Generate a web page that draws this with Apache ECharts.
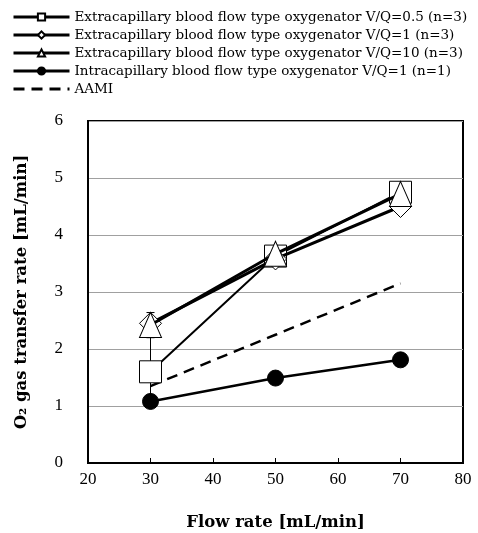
<!DOCTYPE html>
<html>
<head>
<meta charset="utf-8">
<script src="https://cdn.jsdelivr.net/npm/echarts@6/dist/echarts.min.js"></script>
<style>html,body{margin:0;padding:0;background:#fff}#c{width:478px;height:533px}</style>
</head>
<body>
<div id="c"></div>
<script>
const flow = [30, 50, 70];
const vq05 = [1.6, 3.63, 4.75];
const vq1 = [2.45, 3.58, 4.5];
const vq10 = [2.42, 3.67, 4.72];
const intra = [1.08, 1.49, 1.81];
const aami = [1.35, 2.25, 3.15];
const err05 = [0.6, 0.1, 0.1];
const err10 = [0.22, 0.05, 0.05];
const names = [
  'Extracapillary blood flow type oxygenator V/Q=0.5 (n=3)',
  'Extracapillary blood flow type oxygenator V/Q=1 (n=3)',
  'Extracapillary blood flow type oxygenator V/Q=10 (n=3)',
  'Intracapillary blood flow type oxygenator V/Q=1 (n=1)',
  'AAMI'
];
const xTicks = [20, 30, 40, 50, 60, 70, 80];
const yTicks = [0, 1, 2, 3, 4, 5, 6];

const pairs = arr => flow.map((f, i) => [f, arr[i]]);
const errData = (vals, errs) => flow.map((f, i) => [f, vals[i] - errs[i], vals[i] + errs[i]]);

const serif = '"Liberation Serif", "DejaVu Serif", serif';

function errSeries(vals, errs) {
  return {
    type: 'custom',
    data: errData(vals, errs),
    z: 1,
    silent: true,
    renderItem: function (params, api) {
      const x = api.value(0);
      const lo = api.coord([x, api.value(1)]);
      const hi = api.coord([x, api.value(2)]);
      const w = 4;
      const st = { stroke: '#000', lineWidth: 1 };
      return {
        type: 'group',
        children: [
          { type: 'line', shape: { x1: lo[0], y1: lo[1], x2: hi[0], y2: hi[1] }, style: st },
          { type: 'line', shape: { x1: hi[0] - w, y1: hi[1], x2: hi[0] + w, y2: hi[1] }, style: st },
          { type: 'line', shape: { x1: lo[0] - w, y1: lo[1], x2: lo[0] + w, y2: lo[1] }, style: st }
        ]
      };
    }
  };
}

const chart = echarts.init(document.getElementById('c'), null, { renderer: 'canvas' });
const lineBase = { type: 'line', itemStyle: { color: '#fff', borderColor: '#000', borderWidth: 1, opacity: 1 }, lineStyle: { color: '#000', width: 3 }, z: 2 };
chart.setOption({
  animation: false,
  backgroundColor: '#fff',
  legend: {
    orient: 'vertical',
    left: 7,
    top: 5,
    itemWidth: 56,
    itemHeight: 9,
    itemGap: 4,
    lineStyle: { width: 3 },
    textStyle: { fontFamily: '"DejaVu Serif", serif', fontSize: 13.5, color: '#000', lineHeight: 14 },
    data: names
  },
  grid: { left: 88, right: 15, top: 121, bottom: 70, show: true, borderColor: '#000', borderWidth: 2, backgroundColor: 'transparent', outerBoundsMode: 'none', containLabel: false },
  xAxis: {
    type: 'value', min: xTicks[0], max: xTicks[xTicks.length - 1], interval: 10,
    name: 'Flow rate [mL/min]', nameLocation: 'middle', nameGap: 51,
    nameTextStyle: { fontFamily: '"DejaVu Serif", serif', fontWeight: 'bold', fontSize: 16.5, color: '#000' },
    axisLine: { lineStyle: { color: '#000', width: 2 } },
    axisTick: { inside: true, length: 5, lineStyle: { color: '#000', width: 1 } },
    axisLabel: { fontFamily: serif, fontSize: 17, color: '#000', margin: 8 },
    splitLine: { show: false }
  },
  yAxis: {
    type: 'value', min: yTicks[0], max: yTicks[yTicks.length - 1], interval: 1,
    name: 'O\u2082 gas transfer rate [mL/min]', nameLocation: 'middle', nameGap: 58,
    nameTextStyle: { fontFamily: '"DejaVu Serif", serif', fontWeight: 'bold', fontSize: 16.5, color: '#000' },
    axisLine: { lineStyle: { color: '#000', width: 2 } },
    axisTick: { show: false },
    axisLabel: { fontFamily: serif, fontSize: 17, color: '#000', margin: 25 },
    splitLine: { lineStyle: { color: '#a0a0a0', width: 1 } }
  },
  series: [
    errSeries(vq05, err05),
    errSeries(vq10, err10),
    Object.assign({}, lineBase, { name: names[0], data: pairs(vq05), symbol: 'rect', symbolSize: 22, lineStyle: { color: '#000', width: 2 } }),
    Object.assign({}, lineBase, { name: names[1], data: pairs(vq1), symbol: 'diamond', symbolSize: [22, 22], z: 3 }),
    Object.assign({}, lineBase, { name: names[2], data: pairs(vq10), symbol: 'triangle', symbolSize: [22, 25], z: 4 }),
    Object.assign({}, lineBase, { name: names[3], data: pairs(intra), symbol: 'circle', symbolSize: 16, itemStyle: { color: '#000', borderColor: '#000', borderWidth: 1 }, lineStyle: { color: '#000', width: 2.5 }, z: 5 }),
    { type: 'line', name: names[4], data: pairs(aami), symbol: 'none', showSymbol: false, itemStyle: { color: 'rgba(0,0,0,0)', borderColor: 'rgba(0,0,0,0)' }, lineStyle: { color: '#000', width: 2.5, type: [11, 7] }, z: 2 }
  ]
});
</script>
</body>
</html>
